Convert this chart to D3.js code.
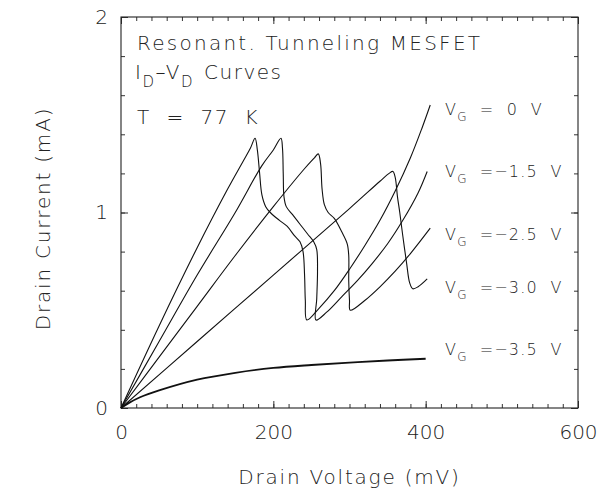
<!DOCTYPE html>
<html>
<head>
<meta charset="utf-8">
<script src="https://cdn.jsdelivr.net/npm/d3@7"></script>
<style>
  body { margin: 0; background: #fff; }
  svg text { font-family: 'DejaVu Sans', sans-serif; font-weight: 200; fill: #222; }
  .curve { fill: none; stroke: #111; stroke-width: 1.1; }
  .curve-flat { stroke-width: 1.8; }
  .frame { fill: none; stroke: #222; stroke-width: 1.1; }
</style>
</head>
<body>
<svg id="chart" width="601" height="495"></svg>
<script>
'use strict';

//drain voltage (mV), drain current (mA), one list per gate voltage
const vg0 = [[0, 0], [50, 0.42], [100, 0.82], [140, 1.12], [160, 1.26], [170, 1.33], [176, 1.38],
  [179, 1.32], [182, 1.2], [185, 1.09], [190, 1.03], [196, 1.0], [208, 0.96], [218, 0.93],
  [228, 0.88], [235, 0.85], [239, 0.8], [241, 0.68], [242, 0.55], [244, 0.45], [260, 0.51],
  [280, 0.6], [300, 0.71], [320, 0.83], [340, 0.96], [360, 1.11], [380, 1.28], [395, 1.43], [406, 1.55]];
const vg15 = [[0, 0], [50, 0.34], [100, 0.68], [150, 1.0], [185, 1.24], [200, 1.32], [210, 1.38],
  [212, 1.33], [213, 1.2], [214, 1.08], [217, 1.03], [225, 0.99], [235, 0.94], [245, 0.89],
  [253, 0.85], [257, 0.81], [258, 0.7], [257, 0.56], [256, 0.45], [270, 0.49], [290, 0.57],
  [310, 0.65], [330, 0.74], [350, 0.84], [370, 0.96], [390, 1.1], [402, 1.21]];
const vg25 = [[0, 0], [50, 0.26], [100, 0.52], [150, 0.78], [200, 1.03], [240, 1.22], [254, 1.28],
  [259, 1.3], [262, 1.25], [264, 1.12], [267, 1.04], [272, 1.0], [280, 0.97], [290, 0.9],
  [297, 0.84], [299, 0.78], [299, 0.65], [300, 0.55], [301, 0.5], [320, 0.55], [340, 0.62],
  [360, 0.7], [380, 0.79], [406, 0.92]];
const vg30 = [[0, 0], [100, 0.34], [200, 0.68], [300, 1.02], [340, 1.16], [352, 1.2], [357, 1.21],
  [360, 1.18], [363, 1.08], [366, 1.0], [370, 0.88], [375, 0.74], [379, 0.64], [383, 0.61],
  [390, 0.62], [402, 0.66]];
const vg35 = [[0, 0], [10, 0.025], [25, 0.055], [50, 0.09], [100, 0.145], [150, 0.18], [200, 0.205],
  [250, 0.22], [300, 0.232], [350, 0.243], [400, 0.252]];
const gateVoltages = ['=  0  V', '=\u22121.5  V', '=\u22122.5  V', '=\u22123.0  V', '=\u22123.5  V'];
const xTicks = [0, 200, 400, 600];
const yTicks = [0, 1, 2];

(() => {

  //plot box
  const x0 = 121, x1 = 578, yTop = 17, yBot = 408;
  const x = d3.scaleLinear().domain([0, 600]).range([x0, x1]);
  const y = d3.scaleLinear().domain([0, 2]).range([yBot, yTop]);
  const svg = d3.select('#chart');

  //minor and major ticks on all four sides, pointing in
  const minorX = d3.range(0, 601, 20);
  const minorY = d3.range(0, 2.01, 0.2);
  const noLabel = () => '';
  const axes = [
    [d3.axisBottom(x).tickValues(minorX).tickSize(-4).tickFormat(noLabel), `translate(0,${yBot})`],
    [d3.axisTop(x).tickValues(minorX).tickSize(-4).tickFormat(noLabel), `translate(0,${yTop})`],
    [d3.axisLeft(y).tickValues(minorY).tickSize(-4).tickFormat(noLabel), `translate(${x0},0)`],
    [d3.axisRight(y).tickValues(minorY).tickSize(-4).tickFormat(noLabel), `translate(${x1},0)`],
    [d3.axisBottom(x).tickValues(xTicks).tickSize(-7).tickPadding(17).tickFormat(d3.format('d')), `translate(0,${yBot})`],
    [d3.axisLeft(y).tickValues(yTicks).tickSize(-7).tickPadding(13).tickFormat(d3.format('d')), `translate(${x0},0)`],
    [d3.axisTop(x).tickValues(xTicks).tickSize(-7).tickFormat(noLabel), `translate(0,${yTop})`],
    [d3.axisRight(y).tickValues(yTicks).tickSize(-7).tickFormat(noLabel), `translate(${x1},0)`]
  ];
  axes.forEach(([axis, tr]) => {
    const g = svg.append('g').attr('transform', tr).call(axis);
    g.select('.domain').remove();
    g.selectAll('line').attr('stroke', '#333');
    g.selectAll('text').attr('font-size', 20).attr('font-family', null);
  });
  svg.append('rect')
    .attr('x', x0)
    .attr('y', yTop)
    .attr('width', x1 - x0)
    .attr('height', yBot - yTop)
    .attr('class', 'frame');

  //curves
  const line = d3.line()
    .x((d) => x(d[0]))
    .y((d) => y(d[1]))
    .curve(d3.curveCatmullRom.alpha(0.5));
  const curves = [vg0, vg15, vg25, vg30, vg35];
  curves.forEach((c, i) => {
    svg.append('path')
      .datum(c)
      .attr('d', line)
      .attr('class', i === 4 ? 'curve curve-flat' : 'curve');
  });

  //gate voltage labels, placed by current (mA)
  const labelAt = [1.5, 1.18, 0.86, 0.59, 0.27];
  gateVoltages.forEach((v, i) => {
    const t = svg.append('text')
      .attr('x', 445)
      .attr('y', y(labelAt[i]))
      .attr('font-size', 16)
      .attr('letter-spacing', 1.2)
      .attr('xml:space', 'preserve');
    t.append('tspan').text('V');
    t.append('tspan').attr('dy', 6).attr('font-size', 12).text('G');
    t.append('tspan').attr('dy', -6).attr('dx', 12).text(v);
  });

  //title block
  svg.append('text')
    .attr('x', 137)
    .attr('y', 50)
    .attr('font-size', 20)
    .attr('letter-spacing', 2.25)
    .text('Resonant. Tunneling MESFET');
  const sub = svg.append('text')
    .attr('x', 135)
    .attr('y', 79)
    .attr('font-size', 20)
    .attr('letter-spacing', 1.5);
  sub.append('tspan').text('I');
  sub.append('tspan').attr('dy', 8).attr('font-size', 15).text('D');
  sub.append('tspan').attr('dy', -8).text('\u2013V');
  sub.append('tspan').attr('dy', 8).attr('font-size', 15).text('D');
  sub.append('tspan').attr('dy', -8).attr('dx', 10).text('Curves');
  svg.append('text')
    .attr('x', 137)
    .attr('y', 124)
    .attr('font-size', 20)
    .attr('letter-spacing', 1.5)
    .attr('xml:space', 'preserve')
    .text('T  =  77  K');

  //axis titles
  svg.append('text')
    .attr('x', (x0 + x1) / 2)
    .attr('y', 484)
    .attr('text-anchor', 'middle')
    .attr('font-size', 20)
    .attr('letter-spacing', 1.8)
    .text('Drain Voltage (mV)');
  svg.append('text')
    .attr('transform', `translate(50, ${(yTop + yBot) / 2 + 6}) rotate(-90)`)
    .attr('text-anchor', 'middle')
    .attr('font-size', 20)
    .attr('letter-spacing', 1.8)
    .text('Drain Current (mA)');

})();
</script>
</body>
</html>
